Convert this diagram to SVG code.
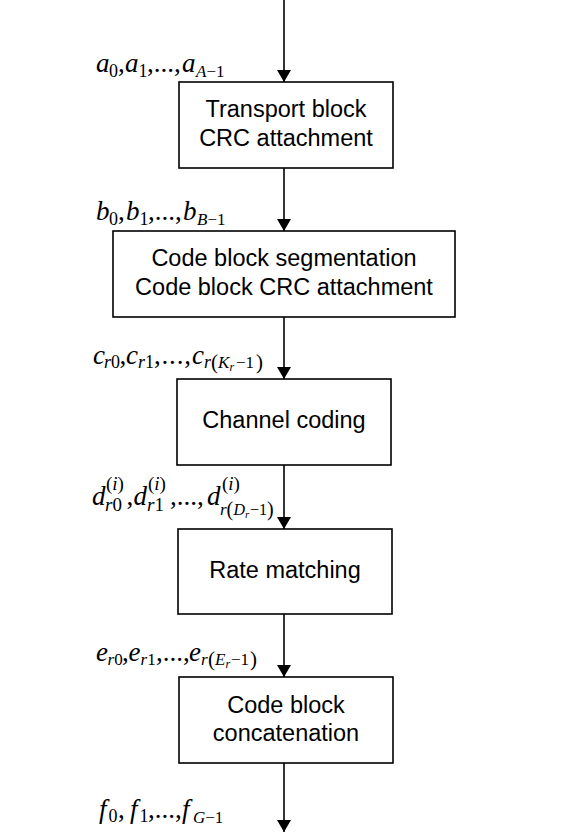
<svg xmlns="http://www.w3.org/2000/svg" width="574" height="836" viewBox="0 0 574 836">
<style>
.box{fill:#fff;stroke:#000;stroke-width:1.6}
.t{font-family:"Liberation Sans",Arial,sans-serif;font-size:23.5px;fill:#000;text-anchor:middle}
.m{font-family:"Liberation Serif","Times New Roman",serif;font-style:italic;font-size:27px;fill:#000}
.s{font-size:17px}
.s18{font-size:18px}
.s19{font-size:19px}
.ss{font-size:12px}
.p{font-size:21px;font-style:normal}
.u{font-style:normal}
.c{stroke:#000;stroke-width:1.6;fill:none}
</style>
<defs>
<marker id="ah" markerWidth="12" markerHeight="14" refX="12" refY="7" orient="auto" markerUnits="userSpaceOnUse">
<path d="M0,0 L12,7 L0,14 Z" fill="#000"/>
</marker>
</defs>
<rect width="574" height="836" fill="#fff"/>
<g id="connectors">
<line class="c" x1="284" y1="0" x2="284" y2="82" marker-end="url(#ah)"/>
<line class="c" x1="284" y1="168" x2="284" y2="231" marker-end="url(#ah)"/>
<line class="c" x1="284" y1="317" x2="284" y2="379" marker-end="url(#ah)"/>
<line class="c" x1="284" y1="465" x2="284" y2="529" marker-end="url(#ah)"/>
<line class="c" x1="284" y1="614" x2="284" y2="677" marker-end="url(#ah)"/>
<line class="c" x1="284" y1="763" x2="284" y2="832" marker-end="url(#ah)"/>
</g>
<g id="n1">
<rect class="box" x="179" y="82" width="214" height="86"/>
<text class="t" x="286" y="117">Transport block</text>
<text class="t" x="286" y="146">CRC attachment</text>
</g>
<g id="n2">
<rect class="box" x="113" y="231" width="342" height="86"/>
<text class="t" x="284" y="266">Code block segmentation</text>
<text class="t" x="284" y="295">Code block CRC attachment</text>
</g>
<g id="n3">
<rect class="box" x="177" y="379" width="214" height="86"/>
<text class="t" x="284" y="428">Channel coding</text>
</g>
<g id="n4">
<rect class="box" x="178" y="529" width="214" height="85"/>
<text class="t" x="285" y="578">Rate matching</text>
</g>
<g id="n5">
<rect class="box" x="179" y="677" width="214" height="86"/>
<text class="t" x="286" y="713">Code block</text>
<text class="t" x="286" y="741">concatenation</text>
</g>
<g id="labels">
<text class="m" x="96" y="72">a<tspan class="s18 u" x="109" y="77">0</tspan><tspan class="u" x="118" y="72">,</tspan><tspan x="125">a</tspan><tspan class="s18 u" x="138.5" y="77">1</tspan><tspan class="u" x="147" y="72">,...,</tspan><tspan x="182">a</tspan><tspan class="s" x="196" y="77">A</tspan><tspan class="s u">−1</tspan></text>
<text class="m" x="96" y="220">b<tspan class="s18 u" x="109" y="225">0</tspan><tspan class="u" x="118" y="220">,</tspan><tspan x="126">b</tspan><tspan class="s18 u" x="139.5" y="225">1</tspan><tspan class="u" x="148" y="220">,...,</tspan><tspan x="183">b</tspan><tspan class="s" x="197" y="225">B</tspan><tspan class="s u">−1</tspan></text>
<text class="m" x="93" y="364">c<tspan class="s18" x="104" y="368">r</tspan><tspan class="s18 u">0</tspan><tspan class="u" x="119.5" y="364">,</tspan><tspan x="126">c</tspan><tspan class="s18" x="138" y="368">r</tspan><tspan class="s18 u">1</tspan><tspan class="u" x="154" y="364" letter-spacing="0.8">,...,</tspan><tspan x="192">c</tspan><tspan class="s18" x="204" y="368">r</tspan><tspan class="p" x="211" y="369">(</tspan><tspan class="s" x="218" y="368">K</tspan><tspan class="ss" x="229.5" y="371">r</tspan><tspan class="s u" x="236" y="368">−1</tspan><tspan class="p" x="256" y="369">)</tspan></text>
<text class="m" x="92" y="505">d<tspan class="s19 u" x="106" y="490">(</tspan><tspan class="s19">i</tspan><tspan class="s19 u">)</tspan><tspan class="s19" x="105" y="511">r</tspan><tspan class="s19 u">0</tspan><tspan class="u" x="126.5" y="505">,</tspan><tspan x="133.5">d</tspan><tspan class="s19 u" x="148" y="490">(</tspan><tspan class="s19">i</tspan><tspan class="s19 u">)</tspan><tspan class="s19" x="147" y="511">r</tspan><tspan class="s19 u">1</tspan><tspan class="u" x="170" y="505">,...,</tspan><tspan x="207">d</tspan><tspan class="s19 u" x="222" y="490">(</tspan><tspan class="s19">i</tspan><tspan class="s19 u">)</tspan><tspan class="s" x="220" y="515">r</tspan><tspan class="u" style="font-size:20px" x="226.5" y="516">(</tspan><tspan style="font-size:16px" x="233.5" y="515">D</tspan><tspan style="font-size:11px" x="245" y="518">r</tspan><tspan class="u" style="font-size:16px" x="250" y="515">−1</tspan><tspan class="u" style="font-size:20px" x="267" y="516">)</tspan></text>
<text class="m" x="96" y="661">e<tspan class="s" x="107.5" y="665">r</tspan><tspan class="s u">0</tspan><tspan class="u" x="122" y="661">,</tspan><tspan x="128.5">e</tspan><tspan class="s" x="140.5" y="665">r</tspan><tspan class="s u">1</tspan><tspan class="u" x="156" y="661">,...,</tspan><tspan x="189">e</tspan><tspan class="s" x="201" y="665">r</tspan><tspan class="p" x="208" y="666">(</tspan><tspan class="s" x="215" y="665">E</tspan><tspan class="ss" x="225.5" y="668">r</tspan><tspan class="s u" x="231" y="665">−1</tspan><tspan class="p" x="250" y="666">)</tspan></text>
<text class="m" x="99" y="818">f<tspan class="s18 u" x="108.5" y="822">0</tspan><tspan class="u" x="118" y="818">,</tspan><tspan x="130">f</tspan><tspan class="s18 u" x="139.5" y="822">1</tspan><tspan class="u" x="148" y="818">,...,</tspan><tspan x="182">f</tspan><tspan class="s" x="193" y="823">G</tspan><tspan class="s u">−1</tspan></text>
</g>
</svg>
